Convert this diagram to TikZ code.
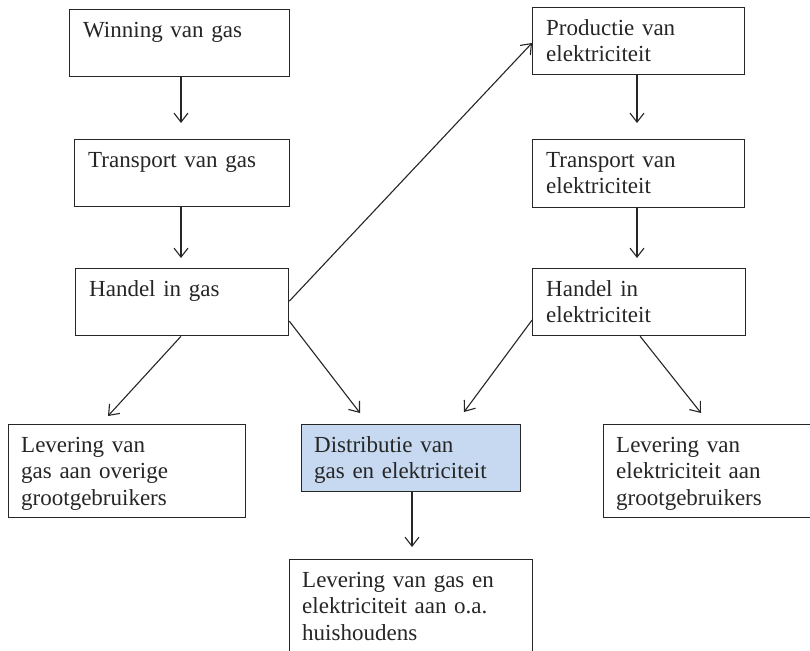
\documentclass[tikz,border=0pt]{standalone}
\usepackage{fontspec}
\setmainfont{Liberation Serif}
\usetikzlibrary{arrows.meta}
\definecolor{boxblue}{HTML}{C6D9F1}
\tikzset{
  box/.style={draw=black!85, line width=1.3pt, rectangle, anchor=north west, inner sep=0pt, minimum width=#1},
  txt/.style={anchor=north west, inner sep=0pt, text width=225pt, align=left, font=\fontsize{23}{26.5}\selectfont, text=black!85},
  arr/.style={draw=black!85, line width=1.1pt, -{Straight Barb[length=9pt,width=14pt,line width=1.1pt]}}
}
\begin{document}
\begin{tikzpicture}[x=1pt,y=-1pt]
\clip (0,0) rectangle (810,650);
\fill[white] (0,0) rectangle (810,650);
% boxes
\node[box=220pt, minimum height=67pt] (b1) at (69,9) {};
\node[box=215pt, minimum height=67pt] (b2) at (74,139) {};
\node[box=213pt, minimum height=67pt] (b3) at (75,268) {};
\node[box=212pt, minimum height=67pt] (b4) at (532,7) {};
\node[box=212pt, minimum height=68pt] (b5) at (532,139) {};
\node[box=213pt, minimum height=67pt] (b6) at (532,268) {};
\node[box=237pt, minimum height=93pt] (b7) at (8,424) {};
\node[box=219pt, minimum height=67pt, fill=boxblue] (b8) at (301,424) {};
\node[box=230pt, minimum height=93pt] (b9) at (603,424) {};
\node[box=243pt, minimum height=110pt] (b10) at (289,559) {};
% texts
\node[txt] (t1) at ([shift={(14pt,-9.5pt)}]b1.north west) {\strut Winning van gas};
\node[txt] (t2) at ([shift={(14pt,-9.5pt)}]b2.north west) {\strut Transport van gas};
\node[txt] (t3) at ([shift={(14pt,-9.5pt)}]b3.north west) {\strut Handel in gas};
\node[txt] (t4) at ([shift={(14pt,-9.5pt)}]b4.north west) {\strut Productie van\\elektriciteit};
\node[txt] (t5) at ([shift={(14pt,-9.5pt)}]b5.north west) {\strut Transport van\\elektriciteit};
\node[txt] (t6) at ([shift={(14pt,-9.5pt)}]b6.north west) {\strut Handel in\\elektriciteit};
\node[txt] (t7) at ([shift={(13pt,-9.5pt)}]b7.north west) {\strut Levering van\\gas aan overige\\grootgebruikers};
\node[txt] (t8) at ([shift={(13pt,-9.5pt)}]b8.north west) {\strut Distributie van\\gas en elektriciteit};
\node[txt] (t9) at ([shift={(13pt,-9.5pt)}]b9.north west) {\strut Levering van\\elektriciteit aan\\grootgebruikers};
\node[txt] (t10) at ([shift={(13pt,-9.5pt)}]b10.north west) {\strut Levering van gas en\\elektriciteit aan o.a.\\huishoudens};
% connector ends
\coordinate (e1) at (181,123);
\coordinate (e2) at (181,258);
\coordinate (e3) at (637,123);
\coordinate (e4) at (637,258);
\coordinate (e5) at (532,43);
\coordinate (e6) at (108,416);
\coordinate (e7) at (360,413);
\coordinate (e8) at (464,412);
\coordinate (e9) at (701,413);
\coordinate (e10) at (412,547);
% connectors
\draw[arr] (b1.south -| e1) -- (e1);
\draw[arr] (b2.south -| e2) -- (e2);
\draw[arr] (b4.south -| e3) -- (e3);
\draw[arr] (b5.south -| e4) -- (e4);
\draw[arr] ([yshift=1pt]b3.east) -- (e5);
\draw[arr] (b3.south -| e1) -- (e6);
\draw[arr] ([yshift=-19pt]b3.east) -- (e7);
\draw[arr] ([yshift=-18pt]b6.west) -- (e8);
\draw[arr] ([xshift=1pt]b6.south) -- (e9);
\draw[arr] (b8.south -| e10) -- (e10);
\end{tikzpicture}
\end{document}
